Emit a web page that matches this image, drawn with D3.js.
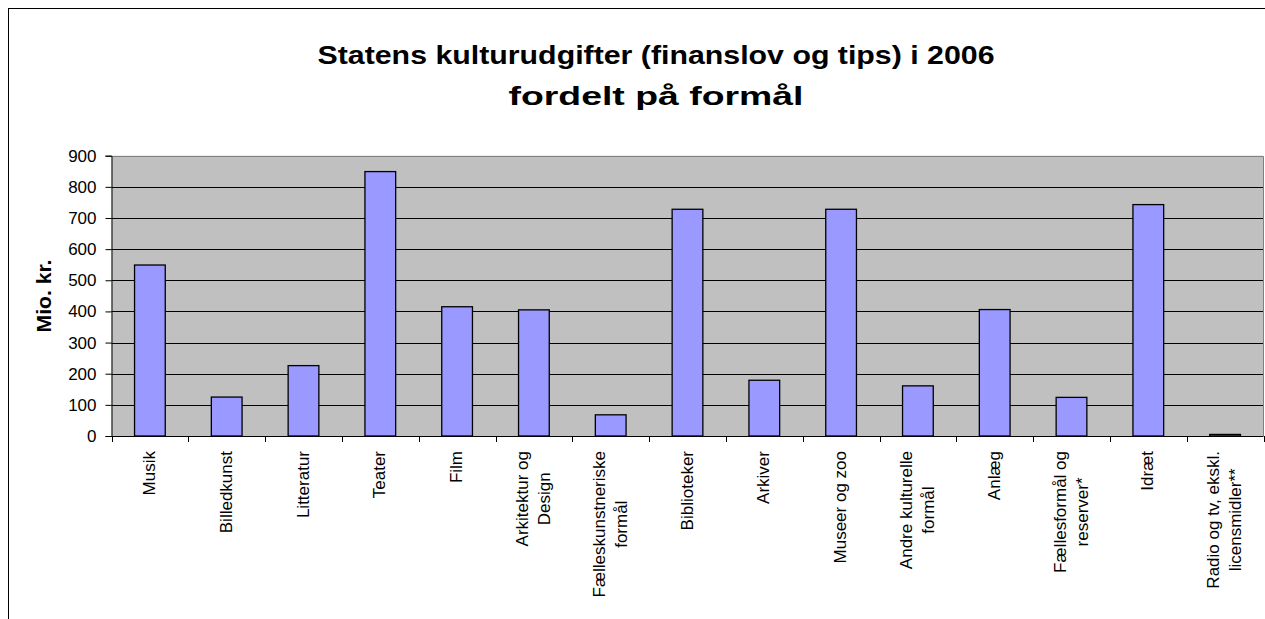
<!DOCTYPE html>
<html>
<head>
<meta charset="utf-8">
<script src="https://cdn.jsdelivr.net/npm/d3@7"></script>
<style>
  html, body { margin: 0; padding: 0; background: #fff; }
  svg { display: block; font-family: Arial, "Liberation Sans", sans-serif; }
</style>
</head>
<body>
<svg id="chart" width="1265" height="619"></svg>
<script>
const categories = [
  "Musik", "Billedkunst", "Litteratur", "Teater", "Film",
  "Arkitektur og|Design", "Fælleskunstneriske|formål", "Biblioteker", "Arkiver",
  "Museer og zoo", "Andre kulturelle|formål", "Anlæg", "Fællesformål og|reserver*",
  "Idræt", "Radio og tv, ekskl.|licensmidler**"
];
const values = [549, 125, 226, 849, 415, 405, 68, 728, 179, 728, 161, 406, 124, 743, 5];
const yTicks = [0, 100, 200, 300, 400, 500, 600, 700, 800, 900];
const titleLines = ["Statens kulturudgifter (finanslov og tips) i 2006", "fordelt på formål"];
const yLabel = "Mio. kr.";

const svg = d3.select("#chart");
const plot = { left: 111.5, right: 1263.5, top: 155.7, bottom: 436 };

// outer chart border
svg.append("rect").attr("x", 8.5).attr("y", 8.5).attr("width", 1300).attr("height", 700)
  .attr("fill", "#fff").attr("stroke", "#000").attr("stroke-width", 1);

const x = d3.scaleBand().domain(categories).range([plot.left, plot.right]).padding(0);
const y = d3.scaleLinear().domain([0, 900]).range([plot.bottom, plot.top]);

// plot background
svg.append("rect").attr("x", plot.left).attr("y", plot.top)
  .attr("width", plot.right - plot.left).attr("height", plot.bottom - plot.top)
  .attr("fill", "#c0c0c0");

// gridlines
svg.append("g").selectAll("line").data(yTicks.filter(d => d > 0 && d < 900)).join("line")
  .attr("x1", plot.left).attr("x2", plot.right)
  .attr("y1", d => Math.round(y(d)) + 0.5).attr("y2", d => Math.round(y(d)) + 0.5)
  .attr("stroke", "#000").attr("stroke-width", 1);

// plot border top/right (gray)
svg.append("path")
  .attr("d", `M${plot.left},${Math.round(plot.top) + 0.5}H${plot.right}V${plot.bottom}`)
  .attr("fill", "none").attr("stroke", "#808080").attr("stroke-width", 1);

// bars
const barW = x.bandwidth() * 0.4;
svg.append("g").selectAll("rect").data(values).join("rect")
  .attr("x", (d, i) => x(categories[i]) + (x.bandwidth() - barW) / 2)
  .attr("y", d => y(d))
  .attr("width", barW)
  .attr("height", d => y(0) - y(d))
  .attr("fill", "#9999ff")
  .attr("stroke", "#000").attr("stroke-width", 1.3);

// y axis
const yAxis = d3.axisLeft(y).tickValues(yTicks).tickSize(6).tickPadding(9);
const gy = svg.append("g").attr("transform", `translate(${plot.left},0)`).call(yAxis);
gy.select(".domain").attr("stroke", "#000");
gy.selectAll(".tick line").attr("stroke", "#000");
gy.selectAll(".tick text").attr("font-size", 17).attr("fill", "#000")
  .attr("font-family", "Arial, 'Liberation Sans', sans-serif");

// x axis line and ticks at band boundaries
svg.append("line").attr("x1", plot.left).attr("x2", plot.right)
  .attr("y1", plot.bottom + 0.5).attr("y2", plot.bottom + 0.5).attr("stroke", "#000");
const boundaries = categories.map(c => x(c)).concat([plot.right]);
svg.append("g").selectAll("line").data(boundaries).join("line")
  .attr("x1", d => Math.round(d) + 0.5).attr("x2", d => Math.round(d) + 0.5)
  .attr("y1", plot.bottom).attr("y2", plot.bottom + 6)
  .attr("stroke", "#000");

// category labels (rotated, multi-line centered, top aligned)
const labelTop = 451;
const lineGap = 22;
categories.forEach((c, i) => {
  const lines = c.split("|");
  const cx = x(c) + x.bandwidth() / 2;
  const g = svg.append("g");
  const texts = lines.map((ln, j) => g.append("text").text(ln)
    .attr("font-size", 17).attr("fill", "#000").attr("text-anchor", "middle"));
  const maxLen = d3.max(texts, t => t.node().getComputedTextLength());
  const n = lines.length;
  texts.forEach((t, j) => {
    const lx = cx + (j - (n - 1) / 2) * lineGap + 5;
    const ly = labelTop + maxLen / 2;
    t.attr("transform", `translate(${lx},${ly}) rotate(-90)`);
  });
});

// y axis label
svg.append("text").text(yLabel)
  .attr("transform", `translate(51,296) rotate(-90)`)
  .attr("text-anchor", "middle").attr("font-weight", "bold").attr("font-size", 20)
  .attr("textLength", 73).attr("lengthAdjust", "spacingAndGlyphs");

// title
const titleWidths = [677, 295];
titleLines.forEach((t, i) => {
  svg.append("text").text(t)
    .attr("x", 656).attr("y", 64 + i * 41)
    .attr("text-anchor", "middle").attr("font-weight", "bold").attr("font-size", 26)
    .attr("textLength", titleWidths[i]).attr("lengthAdjust", "spacingAndGlyphs");
});
</script>
</body>
</html>
